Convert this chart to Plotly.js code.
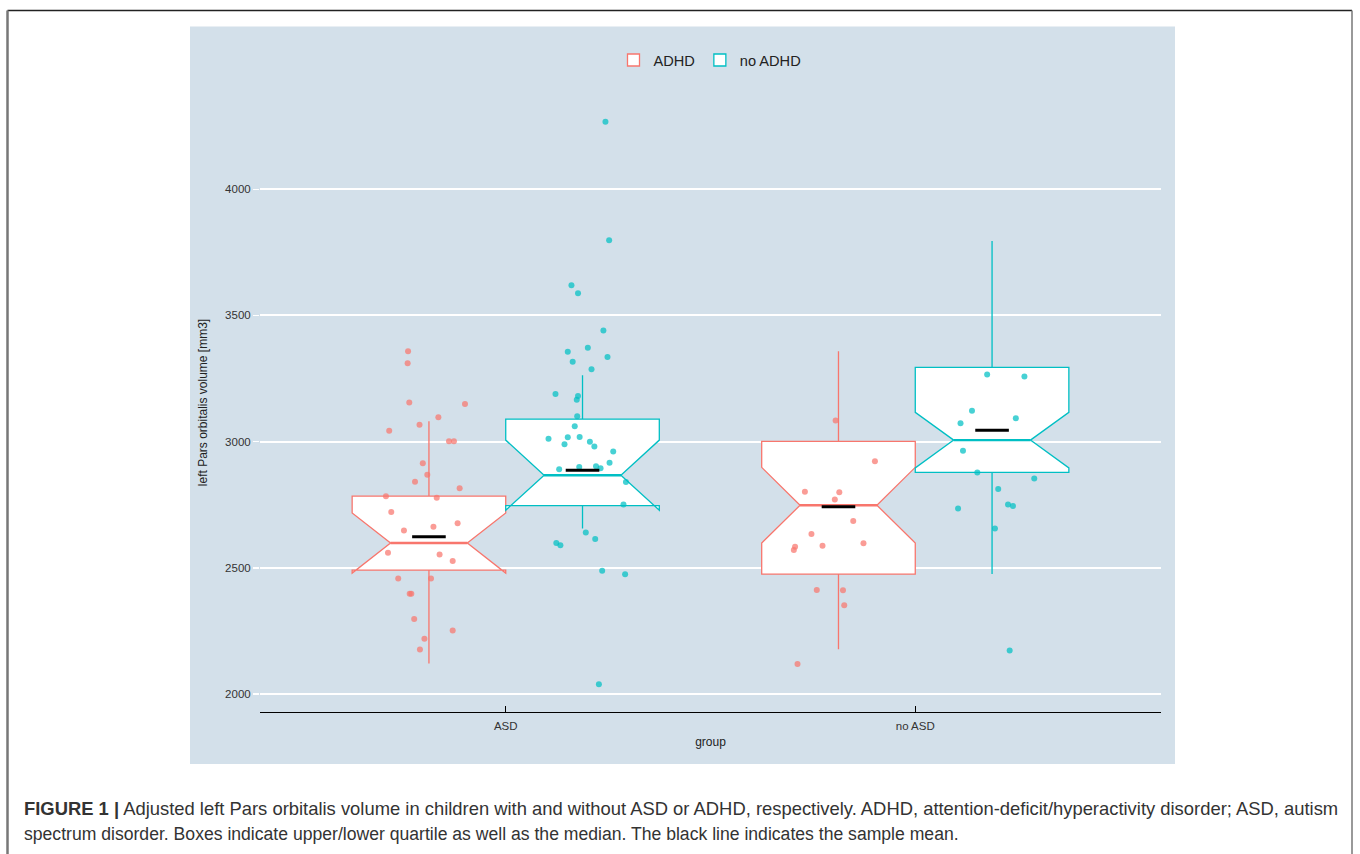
<!DOCTYPE html>
<html><head><meta charset="utf-8">
<script src="https://cdn.plot.ly/plotly-3.0.1.min.js"></script>
<style>html,body{margin:0;padding:0;background:#fff;} #chart{width:1360px;height:854px;}</style>
</head><body><div id="chart"></div>
<script>
// ---------- data ----------
const groups = ['ASD', 'no ASD'];
const seriesNames = ['ADHD', 'no ADHD'];
const yTicks = [2000, 2500, 3000, 3500, 4000];

// box statistics (ASD, no ASD)
const adhdQ1 = [2491, 2475];
const adhdMedian = [2598, 2748];
const adhdQ3 = [2784, 3001];
const adhdLowerWhisker = [2121, 2177];
const adhdUpperWhisker = [3081, 3358];
const adhdNotchSpan = [119, 150];
const adhdMean = [2623, 2742];

const noAdhdQ1 = [2746, 2878];
const noAdhdMedian = [2867, 3006];
const noAdhdQ3 = [3089, 3294];
const noAdhdLowerWhisker = [2656, 2475];
const noAdhdUpperWhisker = [3263, 3795];
const noAdhdNotchSpan = [139, 110];
const noAdhdMean = [2887, 3045];

// individual observations (value, horizontal jitter in category units)
const asdAdhdY = [3358,3311,3155,3149,3097,3067,3043,3001,3001,2914,2869,2841,2815,2783,2778,2721,2676,2663,2648,2560,2553,2527,2458,2458,2397,2397,2297,2251,2219,2176];
const asdAdhdJitter = [-0.051,-0.052,-0.048,0.088,0.023,-0.023,-0.097,0.049,0.061,-0.015,-0.004,-0.034,0.075,-0.105,0.019,-0.092,0.070,0.011,-0.061,-0.100,0.026,0.058,-0.075,0.005,-0.047,-0.043,-0.036,0.058,-0.011,-0.022];

const asdNoAdhdY = [4268,3798,3620,3588,3440,3372,3356,3335,3316,3287,3189,3181,3166,3101,3061,3011,3017,3018,2990,2999,2981,2961,2916,2890,2899,2902,2894,2840,2751,2640,2614,2598,2589,2488,2474,2038];
const asdNoAdhdJitter = [0.056,0.065,-0.027,-0.011,0.051,0.013,-0.036,0.061,-0.024,0.022,-0.066,-0.011,-0.014,-0.013,-0.019,-0.083,-0.036,-0.007,-0.044,0.018,0.029,0.075,0.066,-0.057,-0.008,0.033,0.044,0.106,0.100,0.008,0.031,-0.064,-0.054,0.048,0.104,0.040];

const noAsdAdhdY = [3084,2922,2801,2799,2771,2685,2634,2597,2587,2583,2570,2412,2411,2352,2119];
const noAsdAdhdJitter = [-0.007,0.089,-0.082,0.002,-0.009,0.036,-0.066,0.061,-0.039,-0.106,-0.109,-0.053,0.011,0.014,-0.100];

const noAsdNoAdhdY = [3266,3258,3122,3093,3073,2964,2878,2854,2812,2751,2745,2735,2656,2172];
const noAsdNoAdhdJitter = [-0.012,0.079,-0.049,0.058,-0.077,-0.071,-0.036,0.103,0.015,0.039,0.051,-0.083,0.007,0.043];

// ---------- layout helpers ----------
const W = 1360, H = 854, L = 260, R = 199, T = 93, B = 142;
const pw = W - L - R, ph = H - T - B;
const px = x => (x - L) / pw;
const py = y => (H - B - y) / ph;

const COLORS = ['#F8766D', '#00BFC4'];
const DODGE = 0.1875;
const FONT = 'Liberation Sans, Arial, Helvetica, sans-serif';
const groupPos = groups.map((g, i) => i + 1);

const boxStats = [
  {q1: adhdQ1, med: adhdMedian, q3: adhdQ3, lo: adhdLowerWhisker, hi: adhdUpperWhisker, ns: adhdNotchSpan, mean: adhdMean},
  {q1: noAdhdQ1, med: noAdhdMedian, q3: noAdhdQ3, lo: noAdhdLowerWhisker, hi: noAdhdUpperWhisker, ns: noAdhdNotchSpan, mean: noAdhdMean}
];
// points[series][group]
const points = [
  [{y: asdAdhdY, j: asdAdhdJitter}, {y: noAsdAdhdY, j: noAsdAdhdJitter}],
  [{y: asdNoAdhdY, j: asdNoAdhdJitter}, {y: noAsdNoAdhdY, j: noAsdNoAdhdJitter}]
];

const traces = [];
// boxes
seriesNames.forEach((name, s) => {
  const st = boxStats[s];
  traces.push({
    type: 'box', name: name, legendgroup: name, x: groupPos,
    q1: st.q1, median: st.med, q3: st.q3, lowerfence: st.lo, upperfence: st.hi,
    notchspan: st.ns, notched: true, notchwidth: 0.25, whiskerwidth: 0,
    boxpoints: false, fillcolor: '#FFFFFF', line: {color: COLORS[s], width: 1.3},
    hoverinfo: 'skip'
  });
});
// thicker median overlay
seriesNames.forEach((name, s) => {
  const off = (s === 0 ? -DODGE : DODGE);
  traces.push({
    type: 'scatter', mode: 'markers', showlegend: false, hoverinfo: 'skip',
    x: groupPos.map(p => p + off), y: boxStats[s].med,
    marker: {symbol: 'line-ew', size: 55, line: {color: COLORS[s], width: 2.4}}
  });
});
// jittered points
seriesNames.forEach((name, s) => {
  const off = (s === 0 ? -DODGE : DODGE);
  const xs = [], ys = [];
  points[s].forEach((pg, g) => {
    pg.y.forEach((v, k) => { xs.push(groupPos[g] + off + pg.j[k]); ys.push(v); });
  });
  traces.push({
    type: 'scatter', mode: 'markers', showlegend: false, legendgroup: name, hoverinfo: 'y',
    x: xs, y: ys, marker: {color: COLORS[s], size: 6, opacity: 0.72}
  });
});
// mean lines
seriesNames.forEach((name, s) => {
  const off = (s === 0 ? -DODGE : DODGE);
  traces.push({
    type: 'scatter', mode: 'markers', showlegend: false, hoverinfo: 'y',
    x: groupPos.map(p => p + off), y: boxStats[s].mean,
    marker: {symbol: 'line-ew', size: 24, line: {color: '#000000', width: 3}}
  });
});

const layout = {
  width: W, height: H,
  margin: {l: L, r: R, t: T, b: B, pad: 0},
  paper_bgcolor: '#FFFFFF', plot_bgcolor: 'rgba(0,0,0,0)',
  font: {family: FONT, color: '#333333', size: 12},
  boxmode: 'group', boxgap: 0.25, boxgroupgap: 0,
  showlegend: true,
  legend: {orientation: 'h', x: px(710), xanchor: 'center', y: py(60), yanchor: 'middle',
           bgcolor: 'rgba(0,0,0,0)', font: {size: 14.6, color: '#222222'}, traceorder: 'normal'},
  xaxis: {
    range: [0.4, 2.6], tickmode: 'array', tickvals: groupPos, ticktext: groups,
    showgrid: false, zeroline: false, showline: true, linecolor: '#000000', linewidth: 1,
    ticks: 'inside', ticklen: 6, tickcolor: '#000000', tickwidth: 1,
    tickfont: {size: 11.5, color: '#333333'}, ticklabelstandoff: 3,
    title: {text: 'group', font: {size: 12, color: '#222222'}, standoff: 6}
  },
  yaxis: {
    range: [1928.5, 4381.5], tickmode: 'array', tickvals: yTicks, ticktext: yTicks.map(String),
    showgrid: true, gridcolor: '#FFFFFF', gridwidth: 2, zeroline: false, showline: false,
    ticks: 'outside', ticklen: 6, tickcolor: '#FFFFFF', tickwidth: 1.5,
    tickfont: {size: 11.5, color: '#333333'},
    title: {text: 'left Pars orbitalis volume [mm3]', font: {size: 12, color: '#222222'}, standoff: 14}
  },
  shapes: [
    {type: 'rect', xref: 'paper', yref: 'paper', x0: px(190), x1: px(1175), y0: py(764), y1: py(26.5),
     fillcolor: '#D3E0EA', line: {width: 0}, layer: 'below'},
    {type: 'line', xref: 'paper', yref: 'paper', x0: px(7.5), x1: px(1352), y0: py(10.5), y1: py(10.5),
     line: {color: '#222222', width: 1.5}, layer: 'above'},
    {type: 'line', xref: 'paper', yref: 'paper', x0: px(7.5), x1: px(7.5), y0: py(10.5), y1: py(870),
     line: {color: '#777777', width: 2.5}, layer: 'above'},
    {type: 'line', xref: 'paper', yref: 'paper', x0: px(1352), x1: px(1352), y0: py(10.5), y1: py(870),
     line: {color: '#777777', width: 1.5}, layer: 'above'}
  ],
  annotations: [
    {xref: 'paper', yref: 'paper', x: px(22), y: py(808), xanchor: 'left', yanchor: 'middle', showarrow: false,
     text: '<b>FIGURE 1 |</b> Adjusted left Pars orbitalis volume in children with and without ASD or ADHD, respectively. ADHD, attention-deficit/hyperactivity disorder; ASD, autism',
     font: {family: FONT, size: 18.4, color: '#333333'}},
    {xref: 'paper', yref: 'paper', x: px(22), y: py(834), xanchor: 'left', yanchor: 'middle', showarrow: false,
     text: 'spectrum disorder. Boxes indicate upper/lower quartile as well as the median. The black line indicates the sample mean.',
     font: {family: FONT, size: 17.6, color: '#333333'}}
  ]
};

Plotly.newPlot('chart', traces, layout, {displayModeBar: false, staticPlot: true});
</script>
</body></html>
